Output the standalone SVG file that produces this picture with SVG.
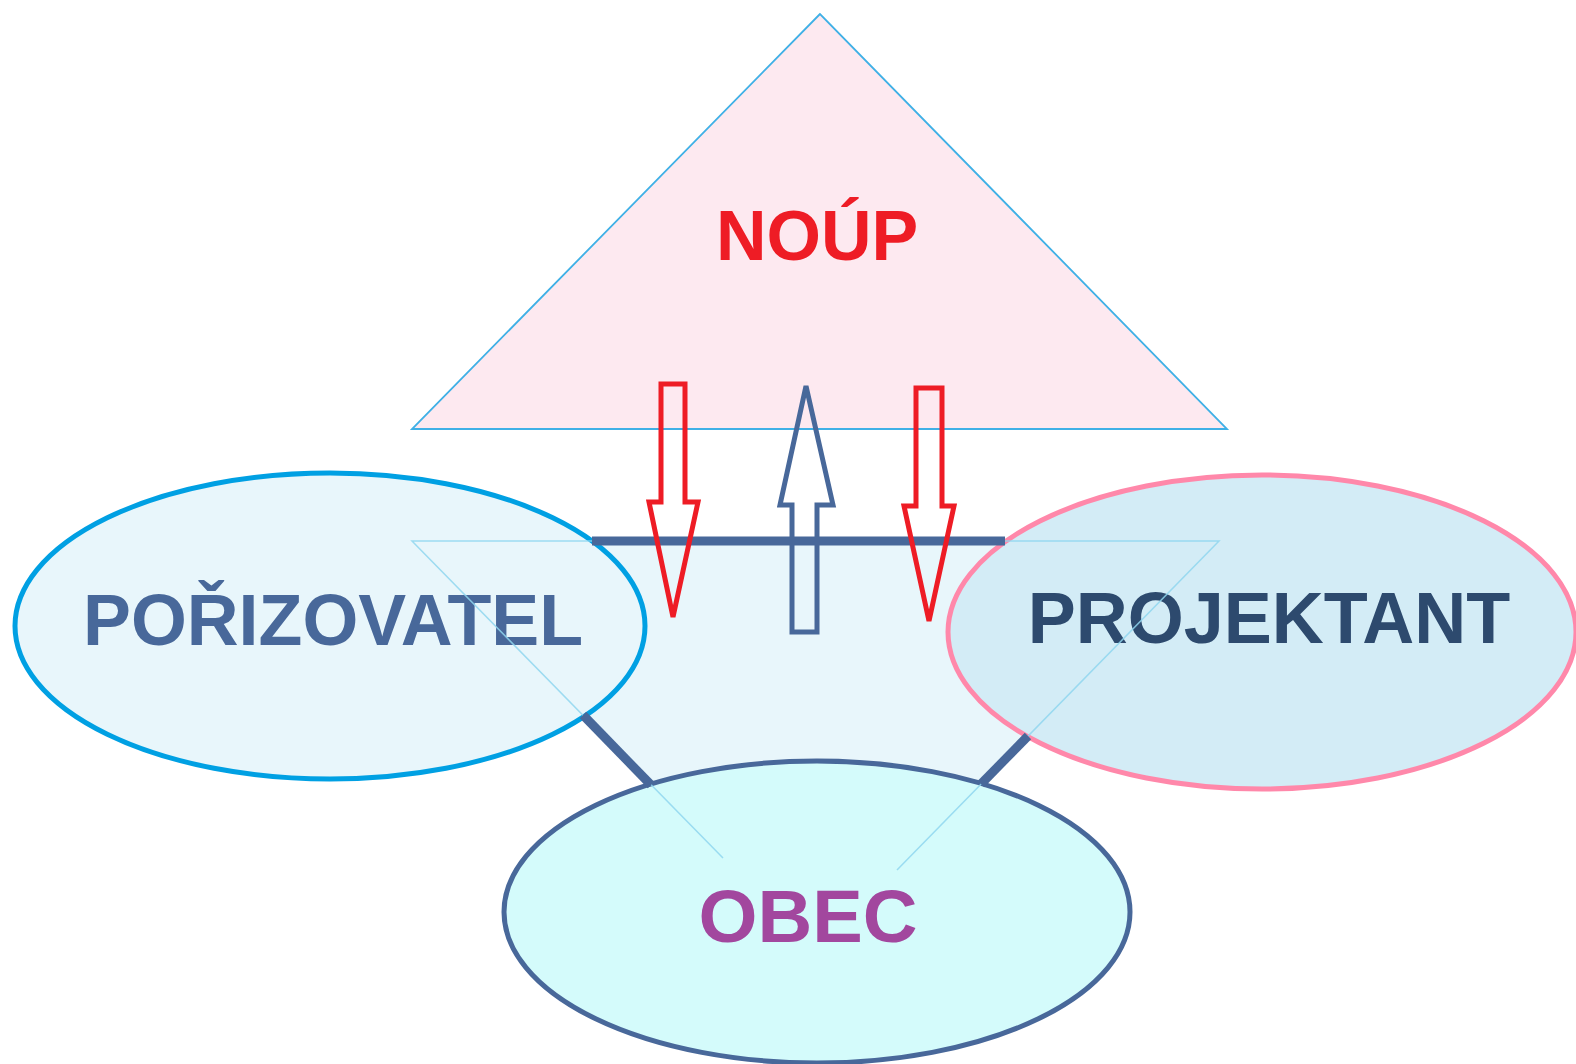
<svg xmlns="http://www.w3.org/2000/svg" width="1576" height="1064" viewBox="0 0 1576 1064">
<style>
text{font-family:"Liberation Sans",Arial,sans-serif;font-weight:bold;text-anchor:middle}
.ell{stroke-width:5}
.thick{stroke:#48689a;stroke-width:9;stroke-linecap:butt;fill:none}
.red{fill:none;stroke:#ee1c25;stroke-width:5;stroke-linejoin:miter}
.blue{fill:none;stroke:#48689a;stroke-width:5;stroke-linejoin:miter}
.faint{fill:none;stroke:#8fd6ef;stroke-width:1.5;opacity:0.85}
</style>
<rect width="1576" height="1064" fill="#ffffff"/>
<g id="noup">
<polygon points="820,14 412,429 1227,429" fill="#fde9f0" stroke="#3fb0e6" stroke-width="1.8"/>
<text x="817" y="260" font-size="70" fill="#ee1c25">NOÚP</text>
</g>
<g id="base">
<polygon points="412,541 1219,541 816,953" fill="#e8f6fb"/>
</g>
<g id="porizovatel">
<ellipse class="ell" cx="330" cy="626" rx="315" ry="153" fill="#e8f6fb" stroke="#00a0e3"/>
<text x="333" y="645" font-size="72" fill="#48689a" textLength="500" lengthAdjust="spacingAndGlyphs">POŘIZOVATEL</text>
</g>
<g id="projektant">
<ellipse class="ell" cx="1262" cy="632" rx="314" ry="157" fill="#d3ecf6" stroke="#ff88aa"/>
<text x="1269" y="643" font-size="72" fill="#2d4a6e">PROJEKTANT</text>
</g>
<g id="obec">
<ellipse class="ell" cx="817" cy="912" rx="313" ry="151" fill="#d4fbfb" stroke="#48689a"/>
<text x="808" y="942" font-size="74" fill="#a2479e" textLength="219" lengthAdjust="spacingAndGlyphs">OBEC</text>
</g>
<g id="faint-outline">
<polyline class="faint" points="723,858 412,541 1219,541 897,870"/>
</g>
<g id="connectors">
<line class="thick" x1="592" y1="541" x2="1005" y2="541"/>
<line class="thick" x1="583" y1="715" x2="651" y2="785"/>
<line class="thick" x1="1028" y1="736" x2="981" y2="784"/>
</g>
<g id="arrows">
<polygon class="red" points="661,384 685,384 685,502 698,502 673,617 649,502 661,502"/>
<polygon class="blue" points="806,386 833,505 817,505 817,632 792,632 792,505 780,505"/>
<polygon class="red" points="916,388 942,388 942,506 954,506 929,621 904,506 916,506"/>
</g>
</svg>
